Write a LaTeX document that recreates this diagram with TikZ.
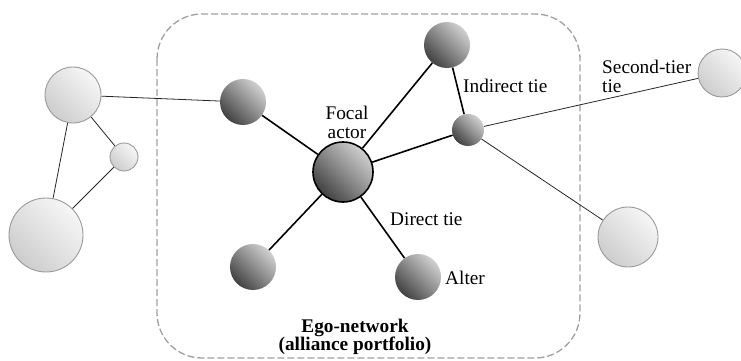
\documentclass[tikz,border=0pt]{standalone}
\usepackage{fontspec}
\setmainfont{Liberation Serif}
\usetikzlibrary{backgrounds}

\definecolor{alterlight}{HTML}{D0D0D0}
\definecolor{altermid}{HTML}{8A8A8A}
\definecolor{alterdark}{HTML}{414141}
\definecolor{outerlight}{HTML}{F6F6F6}
\definecolor{outerdark}{HTML}{CDCDCD}
\definecolor{outerrim}{HTML}{9A9A9A}
\definecolor{boxgrey}{HTML}{A0A0A0}

\begin{document}
\begin{tikzpicture}[x=1pt, y=-1pt,
  every node/.style={font=\fontsize{19.3}{19}\selectfont},
  alter/.style={circle, inner sep=0pt, minimum size=46pt,
    top color=alterlight, bottom color=alterdark, middle color=altermid,
    shading angle=-45},
  focal/.style={alter, minimum size=60pt, draw=black, line width=1.6pt},
  outer/.style={circle, inner sep=0pt, draw=outerrim, line width=0.9pt,
    top color=outerlight, bottom color=outerdark, shading angle=-45},
  label/.style={inner sep=0pt},
  directtie/.style={line width=1.6pt, black},
  secondtie/.style={line width=0.8pt, black!85}
]
\useasboundingbox (0,0) rectangle (741,361);

% ego-network members
\node[focal] (ego) at (343,172) {};
\node[alter] (aleft) at (243,102) {};
\node[alter] (atop) at (447,45) {};
\node[alter, minimum size=32pt] (abridge) at (468,130) {};
\node[alter] (abl) at (253,267) {};
\node[alter] (alter) at (418,277) {};

% actors outside the ego-network
\node[outer, minimum size=56pt] (lbig) at (73,95) {};
\node[outer, minimum size=28pt] (lsmall) at (124,157) {};
\node[outer, minimum size=74pt] (lbot) at (46,235) {};
\node[outer, minimum size=48pt] (rtop) at (722,73) {};
\node[outer, minimum size=60pt] (rbot) at (628,237) {};

\begin{pgfonlayer}{background}
  % boundary of the ego-network
  \draw[boxgrey, line width=1.3pt, dash pattern=on 7pt off 3pt, rounded corners=45pt]
    (157,14) rectangle (580,358);
  % direct ties of the focal actor
  \draw[directtie] (ego) -- (aleft);
  \draw[directtie] (ego) -- (atop);
  \draw[directtie] (ego) -- (abridge);
  \draw[directtie] (ego) -- (abl);
  \draw[directtie] (ego) -- (alter);
  \draw[directtie] (atop) -- (abridge);
  % second-tier ties
  \draw[secondtie] (abridge) -- (rtop);
  \draw[secondtie] (abridge) -- (rbot);
  \draw[secondtie] (lbig) -- (aleft);
  \draw[secondtie] (lbig) -- (lsmall);
  \draw[secondtie] (lbig) -- (lbot);
  \draw[secondtie] (lsmall) -- (lbot);
\end{pgfonlayer}

% labels
\node[label, align=center] (tfocal) at (347,122) {Focal\\actor};
\node[label, anchor=mid west] (tindirect) at (463,90) {Indirect tie};
\node[label, anchor=west, align=left] (tsecond) at (602,76) {Second-tier\\tie};
\node[label, anchor=mid west] (tdirect) at (390,223) {Direct tie};
\node[label, anchor=mid west] (talter) at (445,282) {Alter};
\node[label, align=center, font=\fontsize{19.3}{18.5}\selectfont\bfseries] (tego) at (355,337)
  {Ego-network\\(alliance portfolio)};
\end{tikzpicture}
\end{document}
